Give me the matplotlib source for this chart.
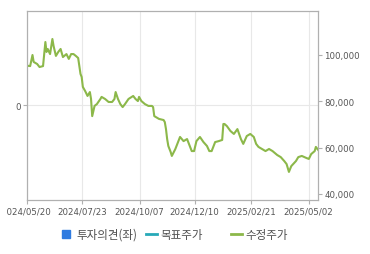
import matplotlib
matplotlib.use("Agg")
import matplotlib.pyplot as plt
from matplotlib.lines import Line2D
from matplotlib.patches import Patch
from matplotlib.transforms import Bbox

plt.rcParams['font.family'] = ['Noto Sans CJK KR', 'DejaVu Sans']

# 거래일 인덱스와 수정주가
day = [0, 3, 5, 6, 9, 11, 14, 16, 17, 18, 20, 22, 23, 25, 27, 29, 31, 34, 36, 38,
       40, 42, 44, 46, 47, 48, 50, 52, 54, 55, 56, 58, 60, 63, 64, 67, 70, 73, 75, 76,
       78, 80, 82, 84, 87, 91, 93, 95, 96, 98, 101, 104, 107, 108, 109, 113, 117, 118, 119, 120,
       121, 123, 124, 127, 131, 134, 137, 138, 141, 143, 145, 148, 151, 154, 156, 158, 161, 164, 167, 168,
       169, 171, 174, 177, 180, 183, 185, 188, 191, 194, 196, 198, 201, 204, 207, 210, 214, 217, 220, 222,
       224, 226, 230, 232, 235, 239, 241, 243, 246, 247, 249]
price = [95400, 95200, 100000, 97000, 96100, 94800, 95200, 105600, 101300, 102600,
         100400, 106900, 103900, 99600, 101300, 102600, 99100, 100400, 98300, 100400,
         100400, 99600, 98700, 91800, 90500, 86200, 84400, 82300, 84000, 81000,
         73600, 78000, 78800, 81000, 81900, 81000, 79700, 79700, 81000, 84000,
         81000, 78800, 77500, 78800, 81000, 82300, 81000, 80100, 81900, 80100,
         78800, 78000, 78000, 77500, 73600, 72400, 71900, 71000, 68000, 63700,
         60700, 58100, 56400, 59400, 64600, 62800, 63700, 62400, 58500, 58500,
         62800, 64600, 62400, 60700, 58500, 58500, 62400, 62800, 63300, 70200,
         70200, 69300, 67200, 65900, 68000, 63700, 61600, 65000, 65900, 64600,
         61600, 60300, 59400, 58500, 59400, 58500, 56800, 55900, 54200, 52900,
         49500, 52000, 54200, 55900, 56400, 55500, 55100, 57200, 58500, 60300, 59000]

tick_days = [0, 47.1, 96.4, 143.4, 191.6, 240.9]
tick_labels = ['2024/05/20', '2024/07/23', '2024/10/07', '2024/12/10', '2025/02/21', '2025/05/02']
price_ticks = [40000, 60000, 80000, 100000]

fig = plt.figure(figsize=(3.70, 2.55), dpi=100)
ax = fig.add_axes([0.072, 0.212, 0.788, 0.741])
ax2 = ax.twinx()

ax.set_xlim(0, 249)
ax.set_ylim(-1, 1)
ax.set_yticks([0])
ax.set_xticks(tick_days)
ax.set_xticklabels(tick_labels)
ax.grid(True, color='#e8e8e8', linewidth=0.8)
ax.set_axisbelow(True)

ax2.plot(day, price, color='#8cb84a', linewidth=1.5)
ax2.set_ylim(37400, 119000)
ax2.set_yticks(price_ticks)
ax2.set_yticklabels([f'{v:,}' for v in price_ticks])

for a in (ax, ax2):
    for s in a.spines.values():
        s.set_color('#b0b0b0')
        s.set_linewidth(0.8)
    a.tick_params(colors='#b0b0b0', labelcolor='#555555', labelsize=6.2, length=3, width=0.8, pad=1.5)
    for lab in a.get_xticklabels() + a.get_yticklabels():
        lab.set_family('DejaVu Sans')

# 첫 날짜 라벨은 왼쪽이 잘려 보임
first = ax.get_xticklabels()[0]
first.set_clip_on(True)
first.set_clip_box(Bbox.from_extents(6.8, 0, 370, 255))

# 범례 (항목마다 고정 위치)
items = [(Patch(facecolor='#2f7be0', edgecolor='#2f7be0'), '투자의견(좌)', 62.3, 0.7, 0.55),
         (Line2D([], [], color='#27a9b8', linewidth=2), '목표주가', 145.7, 0.95, 0.36),
         (Line2D([], [], color='#8cb84a', linewidth=2), '수정주가', 230.7, 0.95, 0.36)]
for h, text, x0, hl, tp in items:
    fig.legend([h], [text], loc='center left', bbox_to_anchor=(x0 / 370, 0.077),
               frameon=False, fontsize=8.3, borderaxespad=0, borderpad=0,
               handlelength=hl, handleheight=0.7, handletextpad=tp,
               labelcolor='#505050')

fig.savefig('out.png', dpi=100)
